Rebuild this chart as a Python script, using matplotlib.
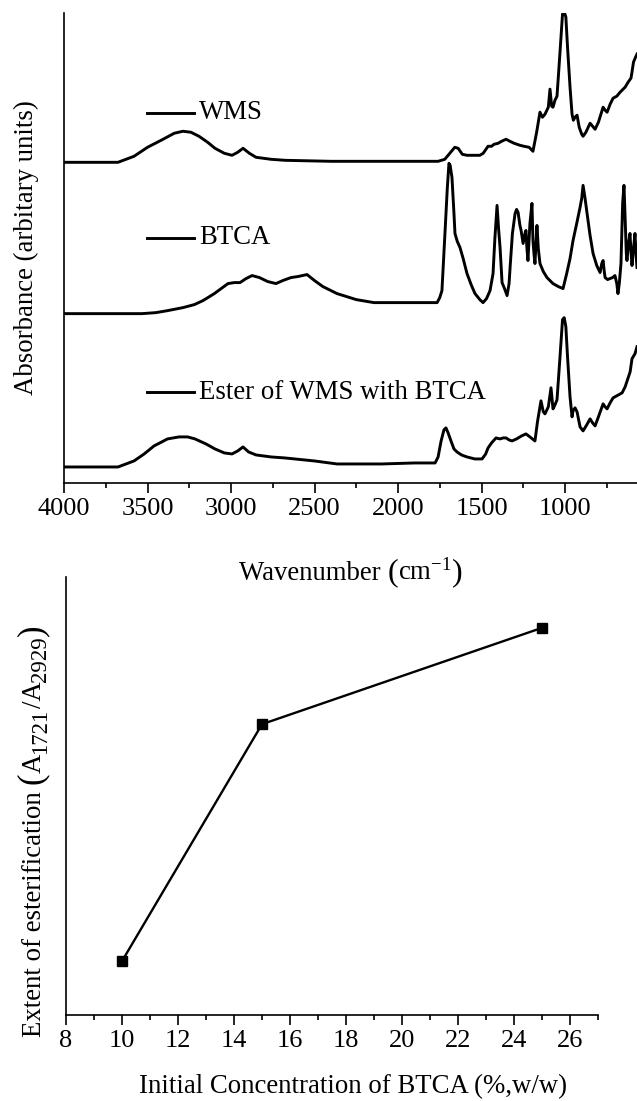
import matplotlib
matplotlib.use("Agg")
import matplotlib.pyplot as plt
from matplotlib.ticker import MultipleLocator

plt.rcParams['font.family'] = ['Liberation Serif', 'DejaVu Serif']
plt.rcParams['mathtext.fontset'] = 'custom'
plt.rcParams['mathtext.rm'] = 'Liberation Serif'
plt.rcParams['mathtext.it'] = 'Liberation Serif:italic'
plt.rcParams['mathtext.bf'] = 'Liberation Serif:bold'

FS = 19.3      # text size
TFS = 19       # tick label size
PFS = 23       # big parentheses
SFS = 16.5     # subscripts in the lower y label

# ---------------- FTIR spectra (wavenumber, relative absorbance) ----------------
wms_wn = [4000, 3677, 3581, 3500, 3407, 3340, 3288, 3240, 3192, 3140, 3096, 3040,
          2994, 2960, 2928, 2890, 2850, 2760, 2677, 2400, 2000, 1760, 1720, 1690,
          1660, 1640, 1615, 1587, 1510, 1490, 1461, 1440, 1425, 1400, 1380, 1353,
          1330, 1305, 1270, 1246, 1215, 1192, 1170, 1150, 1135, 1120, 1100, 1090,
          1080, 1072, 1060, 1048, 1030, 1015, 1005, 995, 985, 970, 958, 950, 940,
          928, 915, 900, 892, 875, 850, 835, 820, 800, 772, 760, 748, 730, 712,
          690, 670, 658, 640, 622, 605, 599, 590, 580, 569]
wms_abs = [0, 0, 6, 15, 23, 29, 31, 30, 26, 20, 14, 9,
           7, 10, 14, 9, 5, 3, 2, 1, 1, 1, 3, 9,
           15, 14, 8, 7, 7, 9, 16, 16, 18, 19, 21, 23,
           21, 19, 17, 16, 15, 11, 30, 50, 45, 48, 55, 73,
           56, 55, 62, 66, 110, 148, 150, 145, 115, 75, 48, 42, 45,
           47, 35, 28, 26, 30, 39, 36, 33, 40, 55, 52, 50, 58, 64,
           66, 70, 72, 75, 80, 84, 90, 100, 104, 108]

btca_wn = [4000, 3533, 3450, 3380, 3288, 3220, 3168, 3100, 3018, 2980, 2946, 2910,
           2874, 2830, 2780, 2731, 2690, 2641, 2600, 2545, 2500, 2450, 2365, 2250,
           2144, 2000, 1850, 1766, 1750, 1737, 1719, 1705, 1695, 1688, 1677, 1665,
           1659, 1645, 1629, 1610, 1587, 1560, 1539, 1510, 1491, 1470, 1449, 1431,
           1420, 1407, 1398, 1389, 1377, 1360, 1347, 1335, 1329, 1315, 1299, 1290,
           1281, 1270, 1263, 1251, 1240, 1234, 1228, 1222, 1210, 1198, 1192, 1186,
           1180, 1174, 1168, 1160, 1150, 1130, 1108, 1072, 1040, 1012, 990, 970,
           952, 930, 910, 900, 892, 880, 868, 850, 832, 810, 790, 780, 772, 765,
           760, 745, 731, 715, 701, 690, 683, 675, 665, 655, 647, 640, 633, 629,
           620, 611, 605, 599, 590, 581, 575, 569]
btca_abs = [0, 0, 1, 3, 6, 9, 13, 20, 30, 31, 31, 35,
            38, 36, 32, 30, 33, 36, 37, 39, 33, 27, 20, 14,
            11, 11, 11, 11, 16, 23, 80, 125, 150, 148, 136, 100,
            80, 72, 66, 55, 40, 28, 20, 14, 11, 15, 23, 40,
            75, 108, 85, 66, 31, 24, 18, 30, 46, 80, 100, 104,
            101, 88, 83, 70, 80, 83, 65, 53, 90, 110, 73, 60,
            50, 70, 88, 65, 50, 42, 36, 30, 27, 25, 40, 55,
            73, 90, 106, 115, 128, 115, 100, 78, 60, 48, 41, 50, 53, 42,
            36, 34, 35, 36, 38, 30, 20, 30, 50, 110, 128, 95, 60, 53,
            70, 80, 62, 48, 65, 80, 60, 46]

ester_wn = [4000, 3677, 3581, 3520, 3461, 3380, 3311, 3260, 3216, 3150, 3096, 3040,
            2994, 2960, 2928, 2895, 2850, 2760, 2677, 2500, 2365, 2100, 1900, 1778,
            1760, 1742, 1725, 1713, 1700, 1683, 1665, 1647, 1620, 1587, 1540, 1497,
            1475, 1461, 1440, 1413, 1390, 1370, 1353, 1335, 1317, 1290, 1260, 1234,
            1210, 1180, 1165, 1144, 1130, 1120, 1100, 1084, 1072, 1060, 1048, 1030,
            1015, 1005, 995, 985, 970, 958, 952, 940, 928, 910, 892, 870, 850, 835,
            820, 800, 772, 760, 748, 730, 712, 690, 658, 640, 622, 610, 599, 581, 569]
ester_abs = [0, 0, 6, 13, 21, 28, 30, 30, 28, 23, 18, 14,
             13, 16, 20, 15, 12, 10, 9, 6, 3, 3, 4, 4,
             10, 26, 37, 39, 34, 26, 18, 15, 12, 10, 8, 8,
             13, 19, 24, 29, 28, 29, 29, 27, 26, 28, 31, 33,
             30, 26, 45, 66, 55, 53, 60, 79, 58, 62, 67, 110,
             147, 149, 140, 110, 70, 50, 56, 59, 55, 40, 36, 42, 48, 44,
             41, 50, 63, 60, 58, 64, 69, 71, 74, 80, 89, 95, 108, 113, 120]

labels = ['WMS', 'BTCA', 'Ester of WMS with BTCA']
offsets = [3.20, 1.69, 0.16]
scale = 0.01

# ---------------- Esterification extent ----------------
conc = [10, 15, 25]
extent = [0.123, 0.664, 0.884]

fig = plt.figure(figsize=(6.37, 11.01), dpi=100)
W, H = 637.0, 1101.0


def composite(pieces, pos_px, rotation=0):
    """Place (string, fontsize, baseline_drop_px) pieces one after another.
    rotation 0 : pos_px = (x_center, y_baseline)
    rotation 90: pos_px = (x_baseline, y_start_at_bottom)"""
    renderer = fig.canvas.get_renderer()
    texts, lengths = [], []
    for s, fs, drop in pieces:
        t = fig.text(0, 0, s, fontsize=fs, rotation=rotation, rotation_mode='anchor',
                     ha='left', va='baseline')
        bb = t.get_window_extent(renderer)
        lengths.append(bb.width if rotation == 0 else bb.height)
        texts.append(t)
    if rotation == 0:
        xc, yb = pos_px
        x = xc - sum(lengths) / 2.0
        for t, L, p in zip(texts, lengths, pieces):
            t.set_position((x / W, 1 - (yb + p[2]) / H))
            x += L
    else:
        xb, y0 = pos_px
        y = y0
        for t, L, p in zip(texts, lengths, pieces):
            t.set_position(((xb + p[2]) / W, 1 - y / H))
            y -= L
    return texts


# Top panel
ax1 = fig.add_axes([0.1005, 0.5613, 0.8995, 0.4269])
for wn, ab, off in zip([wms_wn, btca_wn, ester_wn], [wms_abs, btca_abs, ester_abs], offsets):
    ax1.plot(wn, [off + a * scale for a in ab], color='black', lw=2.1, solid_joinstyle='round')
ax1.set_xlim(4000, 569)
ax1.set_ylim(0, 4.69)
ax1.xaxis.set_major_locator(MultipleLocator(500))
ax1.xaxis.set_minor_locator(MultipleLocator(250))
ax1.set_xticks([4000, 3500, 3000, 2500, 2000, 1500, 1000])
ax1.set_yticks([])
ax1.spines['top'].set_visible(False)
ax1.spines['right'].set_visible(False)
for sp in ['left', 'bottom']:
    ax1.spines[sp].set_linewidth(1.2)
ax1.tick_params(axis='x', which='major', direction='out', length=7, width=1.2, labelsize=TFS, pad=4)
ax1.tick_params(axis='x', which='minor', direction='out', length=3.5, width=1.2)
ax1.set_ylabel('Absorbance (arbitary units)', fontsize=FS, labelpad=18)

legend_y = [0.788, 0.522, 0.193]
for lab, yy in zip(labels, legend_y):
    ax1.plot([0.144, 0.226], [yy, yy], transform=ax1.transAxes, color='black', lw=2.1)
    ax1.text(0.236, yy, lab, transform=ax1.transAxes, fontsize=FS, va='center', ha='left')

# Bottom panel
ax2 = fig.add_axes([0.1036, 0.0781, 0.8352, 0.3978])
ax2.patch.set_alpha(0)
ax2.plot(conc, extent, color='black', lw=1.7, marker='s', markersize=6.5)
ax2.set_xlim(8, 27)
ax2.set_ylim(0, 1)
ax2.xaxis.set_major_locator(MultipleLocator(2))
ax2.xaxis.set_minor_locator(MultipleLocator(1))
ax2.set_yticks([])
ax2.spines['top'].set_visible(False)
ax2.spines['right'].set_visible(False)
for sp in ['left', 'bottom']:
    ax2.spines[sp].set_linewidth(1.2)
ax2.tick_params(axis='x', which='major', direction='out', length=7, width=1.2, labelsize=TFS, pad=4)
ax2.tick_params(axis='x', which='minor', direction='out', length=3.5, width=1.2)
ax2.set_xlabel('Initial Concentration of BTCA (%,w/w)', fontsize=FS, labelpad=16, x=0.539)

# Axis titles with large (Origin-style) parentheses
composite([('Wavenumber ', FS, 0), ('(', PFS, 0), (r'cm$^{-1}$', FS, 0), (')', PFS, 0)], (351, 580))
composite([('Extent of esterification ', FS, 0), ('(', PFS + 2, 0),
           ('A', FS, 0), ('1721', SFS, 5), ('/A', FS, 0), ('2929', SFS, 5),
           (')', PFS + 2, 0)], (41, 1037), rotation=90)

fig.savefig('out.png', dpi=100)
